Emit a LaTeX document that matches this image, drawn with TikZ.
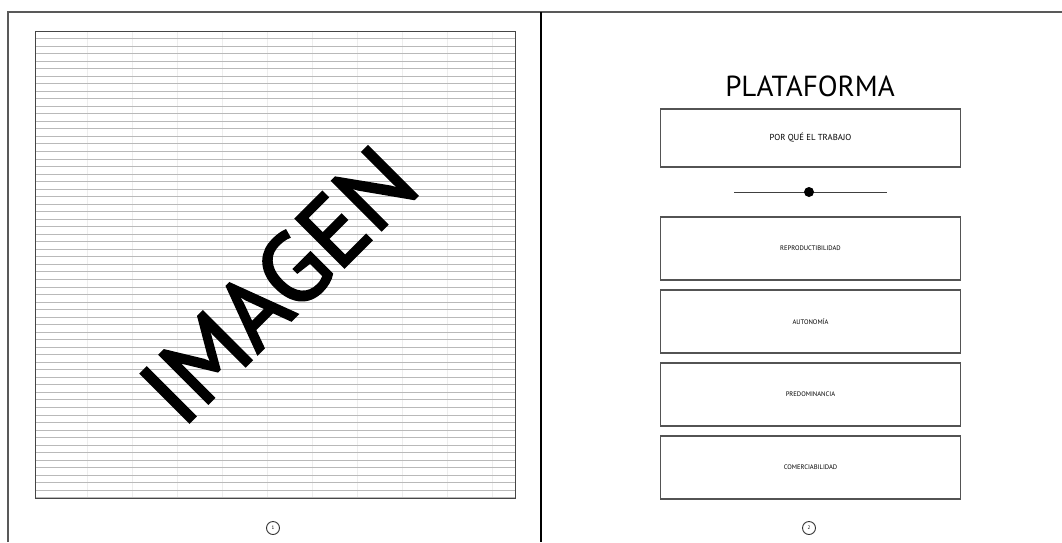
\documentclass[tikz,border=0pt]{standalone}
\usepackage{fontspec}
\setmainfont{PT Sans}
\newfontfamily\imgfont[FakeBold=2.5]{PT Sans}
\begin{document}
\begin{tikzpicture}[x=1pt,y=-1pt,
  framel/.style={draw=gray!70!black,line width=1.5pt},
  ruled/.style={draw=gray!55,line width=1pt},
  faint/.style={draw=gray!14,line width=0.6pt},
  card/.style={draw=gray!65!black,line width=1.1pt,minimum width=300pt,inner sep=0pt,align=center},
  pgnum/.style={circle,draw=gray!40!black,line width=0.9pt,minimum size=13pt,inner sep=0pt,font=\fontsize{5}{6}\selectfont}
]
\useasboundingbox (0,0) rectangle (1062,542);
\fill[white] (0,0) rectangle (1062,542);
% page frame
\coordinate (tl) at (8,12);
\coordinate (tr) at (1062,12);
\coordinate (bl) at (8,542);
\coordinate (dt) at (541,12);
\coordinate (db) at (541,542);
\draw[framel] (bl) -- (tl) -- (tr);
\draw[black,line width=2.4pt] (dt) -- (db);
% left page: ruled image placeholder
\foreach \x in {87,132,...,492} \draw[faint] (\x,31) -- (\x,498);
\foreach \k in {0,...,62} \draw[ruled] (35,31+\k*7.53) -- (515,31+\k*7.53);
\draw[draw=gray!55!black,line width=1pt] (35,31) rectangle (515,498);
\node[rotate=45,font=\imgfont\fontsize{98}{100}\selectfont,inner sep=0pt] (img) at (278,285) {IMAGEN};
\node[pgnum] (p1) at (273,528) {1};
% right page
\node[font=\fontsize{29}{32}\selectfont,inner sep=0pt] (title) at (810,86) {PLATAFORMA};
\node[card,minimum height=58pt,font=\fontsize{8.7}{10}\selectfont] (why) at (810.5,138) {POR QUÉ EL TRABAJO};
\coordinate (sl) at (734,192);
\coordinate (sr) at (887,192);
\draw[gray!50!black,line width=0.8pt] (sl) -- (sr);
\node[circle,fill=black,minimum size=10pt,inner sep=0pt] (dot) at (809,192) {};
\node[card,minimum height=63pt,font=\fontsize{6.6}{8}\selectfont] (b1) at (810.5,248.5) {REPRODUCTIBILIDAD};
\node[card,minimum height=63pt,font=\fontsize{6.6}{8}\selectfont] (b2) at (810.5,321.5) {AUTONOMÍA};
\node[card,minimum height=63pt,font=\fontsize{6.6}{8}\selectfont] (b3) at (810.5,394.5) {PREDOMINANCIA};
\node[card,minimum height=63pt,font=\fontsize{6.6}{8}\selectfont] (b4) at (810.5,467.5) {COMERCIABILIDAD};
\node[pgnum] (p2) at (809,528) {2};
\end{tikzpicture}
\end{document}
